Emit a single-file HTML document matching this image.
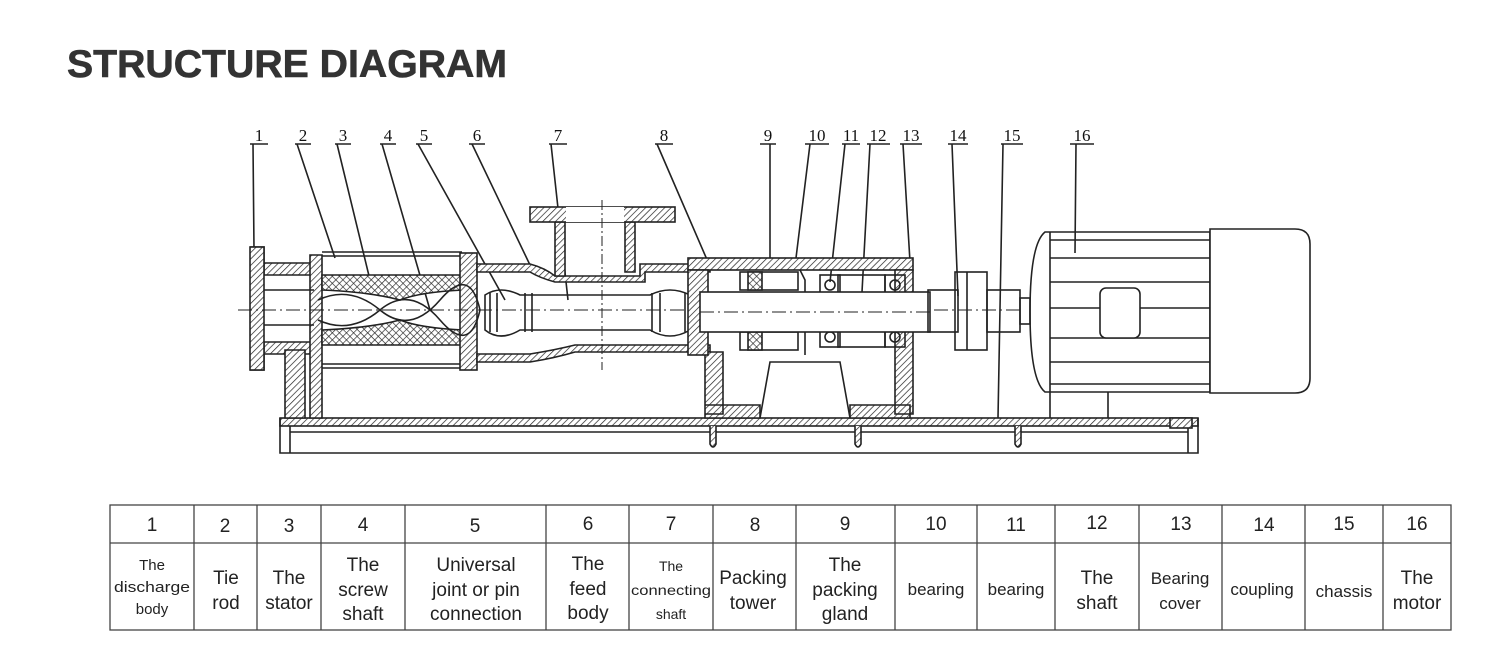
<!DOCTYPE html>
<html><head><meta charset="utf-8"><style>
html,body{margin:0;padding:0;background:#fff;}
body{width:1500px;height:648px;overflow:hidden;position:relative;font-family:"Liberation Sans",sans-serif;}
svg{position:absolute;left:0;top:0;}
</style></head><body>
<svg width="1500" height="648" viewBox="0 0 1500 648" xmlns="http://www.w3.org/2000/svg">
<defs>
<pattern id="h" width="4.5" height="4.5" patternUnits="userSpaceOnUse" patternTransform="rotate(45)">
<rect width="5" height="5" fill="#fff"/><line x1="0" y1="0" x2="0" y2="5" stroke="#222" stroke-width="1.4"/></pattern>
<pattern id="x" width="5" height="5" patternUnits="userSpaceOnUse" patternTransform="rotate(45)">
<rect width="5" height="5" fill="#fff"/><line x1="0" y1="0" x2="0" y2="5" stroke="#222" stroke-width="1.3"/><line x1="0" y1="0" x2="5" y2="0" stroke="#222" stroke-width="1.3"/></pattern>
</defs>
<text x="67" y="77" font-family="Liberation Sans" font-weight="bold" font-size="39" fill="#333" stroke="#333" stroke-width="0.6" textLength="440" lengthAdjust="spacingAndGlyphs">STRUCTURE DIAGRAM</text>

<g stroke="#222" stroke-width="1.6" fill="none" font-family="Liberation Serif" font-size="17">
<g fill="#111" stroke="none" text-anchor="middle">
<text x="259" y="141">1</text><text x="303" y="141">2</text><text x="343" y="141">3</text><text x="388" y="141">4</text><text x="424" y="141">5</text><text x="477" y="141">6</text><text x="558" y="141">7</text><text x="664" y="141">8</text><text x="768" y="141">9</text><text x="817" y="141">10</text><text x="851" y="141">11</text><text x="878" y="141">12</text><text x="911" y="141">13</text><text x="958" y="141">14</text><text x="1012" y="141">15</text><text x="1082" y="141">16</text>
</g>
<path d="M250 144H268M295 144H311M335 144H351M380 144H396M416 144H432M469 144H485M549 144H567M655 144H673M760 144H776M805 144H829M842 144H860M867 144H890M900 144H922M948 144H968M1001 144H1023M1070 144H1094"/>
<path d="M253 144L254 250M297 144L335 258M337 144L370 280M382 144L430 310M418 144L505 300M472 144L530 265M551 144L568 300M657 144L708 262M770 144L770 268M810 144L796 258M845 144L830 282M870 144L862 292M903 144L910 262M952 144L958 296M1003 144L998 418M1076 144L1075 253"/>

<rect x="280" y="418" width="918" height="8" fill="url(#h)"/>
<path d="M280 418V453H1198V418M290 426V453M1188 426V453M290 432H1188"/>
<path d="M710 426v18 q3 6 6 0V426M855 426v18q3 6 6 0V426M1015 426v18q3 6 6 0V426" fill="url(#h)"/>
<rect x="1170" y="418" width="22" height="10" fill="url(#h)"/>
<path d="M250 247h12v16h55v12h-53v-28z" fill="url(#h)"/>
<path d="M250 370h12v-16h55v-12h-53v28z" fill="url(#h)"/>
<rect x="250" y="247" width="14" height="123" fill="url(#h)"/>
<path d="M285 350h20v68h-20z M310 255h12v163h-12z" fill="url(#h)"/>
<path d="M264 290h50M264 325h50"/>
<path d="M322 252H462M322 256H462M322 364H462M322 368H462"/>
<path d="M322 275H463V290Q420 292 400 300Q370 292 322 290Z" fill="url(#x)"/>
<path d="M322 345H463V330Q420 328 400 320Q370 328 322 330Z" fill="url(#x)"/>
<rect x="460" y="253" width="17" height="117" fill="url(#h)"/>
<path d="M318 300Q350 285 380 310T440 300T480 310M318 320Q350 335 380 310T440 320T480 310" />
<path d="M238 310H1020" stroke-dasharray="14 4 2 4" stroke-width="1"/>
<path d="M477 264H530Q545 268 555 276H640V264H710V272H645V282H555Q540 278 530 272H477Z" fill="url(#h)"/>
<path d="M477 354H530Q555 350 575 345H710V352H575Q555 358 530 362H477Z" fill="url(#h)"/>
<path d="M555 222h10v54h-10zM625 222h10v50h-10z" fill="url(#h)"/>
<rect x="530" y="207" width="145" height="15" fill="url(#h)"/>
<rect x="566" y="207" width="58" height="15" fill="#fff" stroke="none"/>
<path d="M602 200V370" stroke-dasharray="10 3 2 3" stroke-width="1"/>
<path d="M485 295Q500 285 520 295H650Q670 285 690 295V330Q670 342 650 330H520Q500 342 485 330Z"/>
<path d="M490 293v39M497 293v39M525 293v39M532 293v39M652 293v39M660 293v39M685 293v39"/>
<rect x="688" y="258" width="225" height="12" fill="url(#h)"/>
<path d="M705 352h18v62h-18zM895 270h18v144h-18zM705 405h55v13h-55zM850 405h60v13h-60z" fill="url(#h)"/>
<path d="M760 418L770 362H840L850 418"/>
<rect x="688" y="270" width="20" height="85" fill="url(#h)"/>
<rect x="740" y="272" width="58" height="18" fill="#fff"/>
<rect x="740" y="332" width="58" height="18" fill="#fff"/>
<rect x="748" y="272" width="14" height="18" fill="url(#x)"/><rect x="748" y="332" width="14" height="18" fill="url(#x)"/>
<path d="M800 270L805 280V355"/>
<rect x="820" y="275" width="20" height="72"/><rect x="885" y="275" width="20" height="72"/>
<circle cx="830" cy="285" r="5"/><circle cx="830" cy="337" r="5"/><circle cx="895" cy="285" r="5"/><circle cx="895" cy="337" r="5"/>
<rect x="838" y="275" width="47" height="72"/>
<rect x="700" y="292" width="230" height="40" fill="#fff"/>
<path d="M700 312H930" stroke-dasharray="14 4 2 4" stroke-width="1"/>
<rect x="928" y="290" width="30" height="42"/>
<rect x="955" y="272" width="32" height="78"/><path d="M967 272v78"/>
<rect x="987" y="290" width="33" height="42"/><rect x="1020" y="298" width="10" height="26"/>
<path d="M1045 232H1210V392H1045Q1030 380 1030 312Q1030 244 1045 232Z"/>
<path d="M1050 232V392M1050 240H1210M1050 258H1210M1050 282H1210M1050 308H1210M1050 338H1210M1050 362H1210M1050 384H1210"/>
<path d="M1210 229H1295Q1310 229 1310 244V378Q1310 393 1295 393H1210Z" fill="#fff"/>
<rect x="1100" y="288" width="40" height="50" rx="6" fill="#fff"/>
<path d="M1050 392V418M1108 392V418"/>
</g>

<g stroke="#444" stroke-width="1.3" fill="none">
<rect x="110" y="505" width="1341" height="125"/>
<path d="M110 543H1451M194 505V630M257 505V630M321 505V630M405 505V630M546 505V630M629 505V630M713 505V630M796 505V630M895 505V630M977 505V630M1055 505V630M1139 505V630M1222 505V630M1305 505V630M1383 505V630"/>
</g>
<g font-family="Liberation Sans" fill="#222" text-anchor="middle" font-size="19">
<text x="152" y="531">1</text><text x="225" y="532">2</text><text x="289" y="532">3</text><text x="363" y="531">4</text><text x="475" y="532">5</text><text x="588" y="530">6</text><text x="671" y="530">7</text><text x="755" y="531">8</text><text x="845" y="530">9</text><text x="936" y="530">10</text><text x="1016" y="531">11</text><text x="1097" y="529">12</text><text x="1181" y="530">13</text><text x="1264" y="531">14</text><text x="1344" y="530">15</text><text x="1417" y="530">16</text>
<g font-size="15"><text x="152" y="570">The</text><text x="152" y="592" textLength="76" lengthAdjust="spacingAndGlyphs">discharge</text><text x="152" y="614">body</text></g>
<text x="226" y="584">Tie</text><text x="226" y="609">rod</text>
<text x="289" y="584">The</text><text x="289" y="609">stator</text>
<text x="363" y="571">The</text><text x="363" y="596">screw</text><text x="363" y="620">shaft</text>
<text x="476" y="571">Universal</text><text x="476" y="596">joint or pin</text><text x="476" y="620">connection</text>
<text x="588" y="570">The</text><text x="588" y="595">feed</text><text x="588" y="619">body</text>
<g font-size="14"><text x="671" y="571">The</text><text x="671" y="595" textLength="80" lengthAdjust="spacingAndGlyphs">connecting</text><text x="671" y="619">shaft</text></g>
<text x="753" y="584">Packing</text><text x="753" y="609">tower</text>
<text x="845" y="571">The</text><text x="845" y="596">packing</text><text x="845" y="620">gland</text>
<g font-size="17"><text x="936" y="595">bearing</text><text x="1016" y="595">bearing</text><text x="1180" y="584">Bearing</text><text x="1180" y="609">cover</text><text x="1262" y="595">coupling</text><text x="1344" y="597">chassis</text></g>
<text x="1097" y="584">The</text><text x="1097" y="609">shaft</text>
<text x="1417" y="584">The</text><text x="1417" y="609">motor</text>
</g>
</svg>
</body></html>
